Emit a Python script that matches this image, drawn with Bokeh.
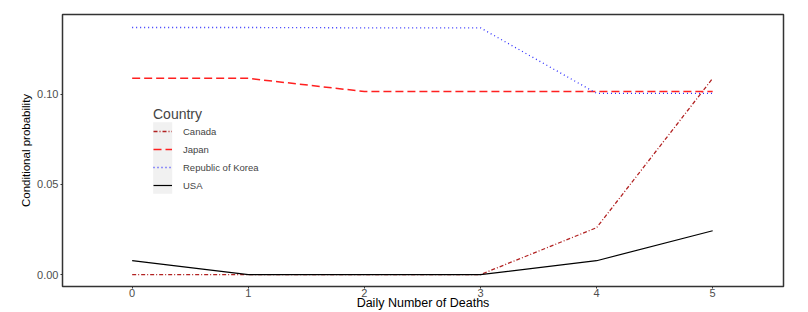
from bokeh.plotting import figure
from bokeh.models import Range1d, FixedTicker, PrintfTickFormatter, Legend, LegendItem, BoxAnnotation
from bokeh.embed import file_html
from bokeh.resources import INLINE

deaths = [0, 1, 2, 3, 4, 5]
canada = [0.0, 0.0, 0.0, 0.0, 0.026, 0.1088]
japan = [0.1088, 0.1088, 0.1015, 0.1015, 0.1015, 0.1015]
korea = [0.137, 0.137, 0.1368, 0.1368, 0.1005, 0.1005]
usa = [0.0077, 0.0, 0.0, 0.0, 0.0077, 0.0243]
y_ticks = [0.0, 0.05, 0.10]
x_ticks = [0, 1, 2, 3, 4, 5]

FONT = "Liberation Sans"

p = figure(width=792, height=312, output_backend="svg", toolbar_location=None,
           x_range=Range1d(-0.6, 5.61), y_range=Range1d(-0.0066, 0.1442),
           min_border_left=62, min_border_right=9, min_border_top=14, min_border_bottom=18)
p.xgrid.visible = False
p.ygrid.visible = False
p.outline_line_color = "#333333"
p.outline_line_width = 1.5
p.background_fill_color = "white"

r_can = p.line(deaths, canada, line_color="#B22222", line_dash="4 2 1 2", line_width=1.3)
r_jap = p.line(deaths, japan, line_color="#FF2020", line_dash="8 4", line_width=1.5)
r_kor = p.line(deaths, korea, line_color="#3030FF", line_dash="1 3", line_width=1.3)
r_usa = p.line(deaths, usa, line_color="black", line_width=1.2)

for ax in (p.xaxis[0], p.yaxis[0]):
    ax.axis_line_color = None
    ax.major_tick_line_color = "#333333"
    ax.major_tick_in = 0
    ax.major_tick_out = 2
    ax.minor_tick_line_color = None
    ax.major_label_text_font = FONT
    ax.major_label_text_font_size = "11px"
    ax.major_label_text_color = "#4D4D4D"
    ax.axis_label_text_font = FONT
    ax.axis_label_text_font_style = "normal"
    ax.axis_label_text_color = "black"

p.xaxis.ticker = FixedTicker(ticks=x_ticks)
p.xaxis.major_label_standoff = 0
p.xaxis.axis_label = "Daily Number of Deaths"
p.xaxis.axis_label_text_font_size = "12.5px"
p.xaxis.axis_label_standoff = -4

p.yaxis.ticker = FixedTicker(ticks=y_ticks)
p.yaxis.formatter = PrintfTickFormatter(format="%.2f")
p.yaxis.major_label_standoff = 2
p.yaxis.axis_label = "Conditional probability"
p.yaxis.axis_label_text_font_size = "11.5px"
p.yaxis.axis_label_standoff = 2

# gray legend key background
p.add_layout(BoxAnnotation(left=0.181, right=0.345, top=0.0845, bottom=0.0448,
                           fill_color="#EBEBEB", fill_alpha=0.7, line_color=None,
                           level="underlay"))

legend = Legend(items=[
    LegendItem(label="Canada", renderers=[r_can]),
    LegendItem(label="Japan", renderers=[r_jap]),
    LegendItem(label="Republic of Korea", renderers=[r_kor]),
    LegendItem(label="USA", renderers=[r_usa]),
], location=(91, 92), title="Country")
legend.title_text_font = FONT
legend.title_text_font_size = "14px"
legend.title_text_font_style = "normal"
legend.title_standoff = 0
legend.label_text_font = FONT
legend.label_text_font_size = "9.5px"
legend.label_standoff = 11
legend.glyph_width = 19
legend.glyph_height = 18
legend.label_height = 18
legend.spacing = 0
legend.padding = 0
legend.margin = 0
legend.border_line_color = None
legend.background_fill_alpha = 0
p.add_layout(legend, "center")

open("out.html", "w").write(file_html(p, INLINE))
